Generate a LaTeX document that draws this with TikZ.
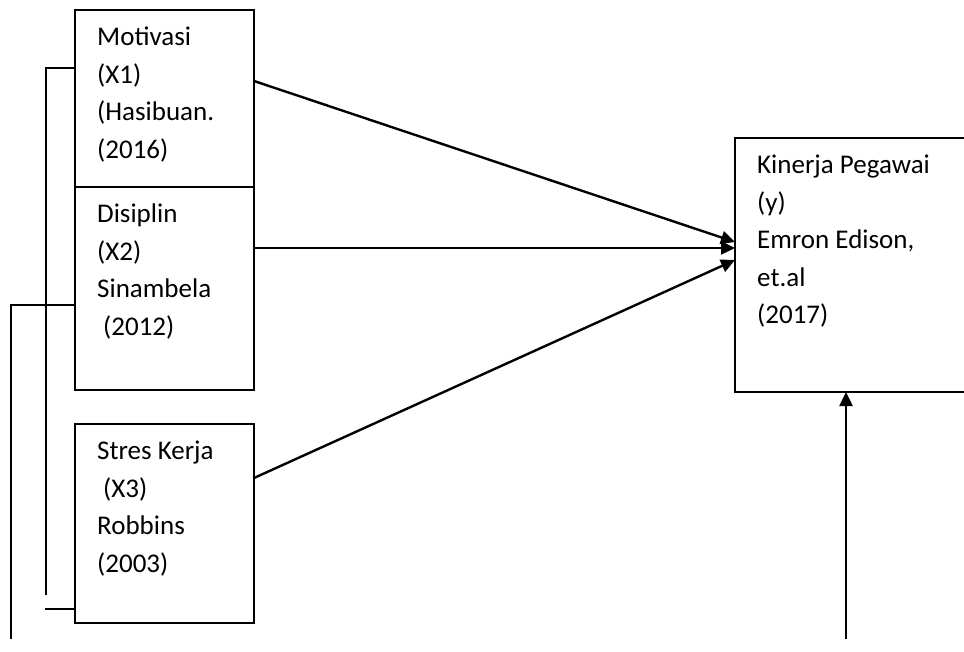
\documentclass[tikz,border=0pt]{standalone}
\usepackage{fontspec}
\setmainfont{Carlito}
\usetikzlibrary{arrows.meta}

\begin{document}
\begin{tikzpicture}[
  x=1pt,
  y=-1pt,
  line join=miter,
  kotak/.style={
    draw,
    line width=1.6pt,
    inner sep=0pt,
    outer sep=0pt,
    anchor=north west,
    minimum width=179pt
  },
  teks/.style={
    anchor=north west,
    align=left,
    inner sep=0pt,
    font=\fontsize{27}{37.5}\selectfont,
    execute at begin node={\rule{0pt}{20pt}}
  },
  panah/.style={
    line width=2.4pt,
    -{Triangle[length=14pt,width=13pt]}
  }
]
  % Ukuran gambar sama dengan acuan
  \clip (0,0) rectangle (964,652);

  \def\geser{22}
  \def\turun{17}

  % Kotak variabel bebas
  \node[kotak, minimum height=177pt] (mot) at (75,10) {};
  \node[kotak, minimum height=203pt] (dis) at (75,187) {};
  \node[kotak, minimum height=199pt] (str) at (75,424) {};

  % Kotak variabel terikat (terpotong di tepi kanan)
  \node[kotak, minimum width=260pt, minimum height=254pt] (kin) at (735,138) {};

  % Isi kotak
  \node[teks] (tmot) at ([xshift=\geser pt,yshift=-\turun pt]mot.north west)
    {Motivasi\\(X1)\\(Hasibuan.\\(2016)};
  \node[teks] (tdis) at ([xshift=\geser pt,yshift=-\turun pt]dis.north west)
    {Disiplin\\(X2)\\Sinambela\\\hspace{6pt}(2012)};
  \node[teks] (tstr) at ([xshift=\geser pt,yshift=-\turun pt]str.north west)
    {Stres Kerja\\\hspace{6pt}(X3)\\Robbins\\(2003)};
  \node[teks] (tkin) at ([xshift=\geser pt,yshift=-\turun pt]kin.north west)
    {Kinerja Pegawai\\(y)\\Emron Edison,\\et.al\\(2017)};

  % Panah menuju Kinerja Pegawai
  \draw[panah]
    ([yshift=-71pt]mot.north east) -- ([yshift=-104pt]kin.north west);

  \draw[panah]
    ([yshift=-61pt]dis.north east) -- ([yshift=-110pt]kin.north west);

  \draw[panah]
    ([yshift=-54pt]str.north east) -- ([yshift=-122pt]kin.north west);

  \coordinate (bawah) at (846,639);
  \draw[panah]
    (bawah) -- (bawah |- kin.south);

  % Garis kurung di sebelah kiri
  \draw[line width=1.6pt]
    ([yshift=-58pt]mot.north west) -- ++(-29,0) -- (46,595);

  \draw[line width=1.6pt]
    ([yshift=-185pt]str.north west) -- ++(-30,0);

  \draw[line width=1.6pt]
    ([yshift=-118pt]dis.north west) -- ++(-64,0) -- (11,639);
\end{tikzpicture}
\end{document}
